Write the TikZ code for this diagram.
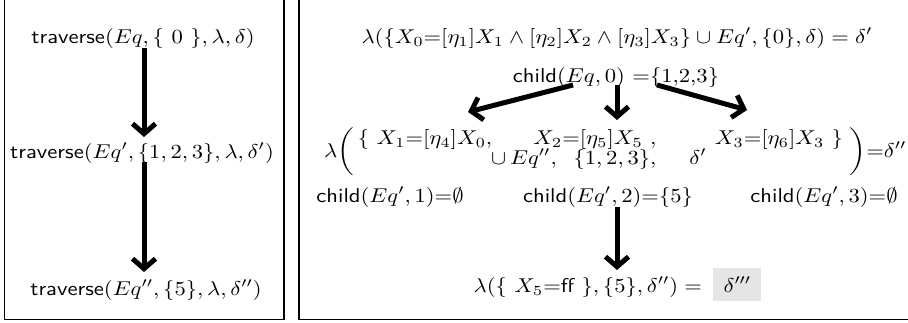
\documentclass[tikz,border=0pt]{standalone}
\usepackage{amsmath,amssymb}
\usepackage{tikz}
\usetikzlibrary{arrows.meta,calc,positioning}

\begin{document}
\begin{tikzpicture}[x=0.5pt,y=-0.5pt,
  every node/.style={anchor=base,xscale=1.13},
  flow/.style={line width=2.5pt,-{Straight Barb[length=5pt,width=11.5pt]}},
  panel/.style={draw,line width=0.85pt},
  hl/.style={fill=black!10,inner xsep=4.5pt,inner ysep=4.5pt}]
  \clip (0,0) rectangle (908,322);
  % the two frames (top and right edges lie outside)
  \draw[panel] (4.5,-20) rectangle (284,319.5);
  \draw[panel] (299,-20) rectangle (930,319.5);

  % left: calls of traverse
  \node (t1) at (143,43) {\textsf{traverse}$(Eq, \{\ 0\ \}, \lambda, \delta)$};
  \node (t2) at (142,158) {\textsf{traverse}$(Eq', \{1,2,3\}, \lambda, \delta')$};
  \node (t3) at (146,295) {\textsf{traverse}$(Eq'', \{5\}, \lambda, \delta'')$};
  \draw[flow] ($(t1.base)+(1,5)$) -- ($(t2.base)+(2,-21)$);
  \draw[flow] ($(t2.base)+(2,4)$) -- ($(t3.base)+(-2,-23)$);

  % right: one step of the solver
  \node (r0) at (617,43) {$\lambda(\{X_0{=}[\eta_1]X_1 \wedge [\eta_2]X_2 \wedge [\eta_3]X_3\} \cup Eq', \{0\}, \delta) = \delta'$};
  \node (c0) at (616,82) {\textsf{child}$(Eq, 0)$ ${=}\{1{,}2{,}3\}$};

  \node (lam) at (339,157) {$\lambda\bigg($};
  \node (x1) at (425,144) {$\{\ X_1{=}[\eta_4]X_0,$};
  \node (x2) at (595,144) {$X_2{=}[\eta_5]X_5\ ,$};
  \node (x3) at (779,144) {$X_3{=}[\eta_6]X_3\ \}$};
  \node (u2) at (524,164) {$\cup\, Eq'',$};
  \node (s2) at (615,164) {$\{1,2,3\},$};
  \node (d2) at (698,164) {$\delta'$};
  \node (rp) at (878,157) {$\bigg){=}\delta''$};

  \node (c1) at (390,202) {\textsf{child}$(Eq',1){=}\emptyset$};
  \node (c2) at (608,202) {\textsf{child}$(Eq',2){=}\{5\}$};
  \node (c3) at (824,202) {\textsf{child}$(Eq',3){=}\emptyset$};

  \node[anchor=base east] (r5) at (710,292) {$\lambda(\{\ X_5{=}\textsf{ff}\ \}, \{5\}, \delta'') =$};
  \node[hl,anchor=base west] (r6) at (713,292) {$\delta'''$};

  \draw[flow] ($(c0.base)+(-43,3)$) -- ($(x1.base)+(43,-32)$);
  \draw[flow] ($(c0.base)+(1,3)$) -- ($(c0.base |- x2.base)+(1,-24)$);
  \draw[flow] ($(c0.base)+(41,3)$) -- ($(x3.base)+(-32,-34)$);
  \coordinate (m2) at ($(c2.base)+(9,5)$);
  \draw[flow] (m2) -- ($(m2 |- r5.base)+(0,-22)$);
\end{tikzpicture}
\end{document}
